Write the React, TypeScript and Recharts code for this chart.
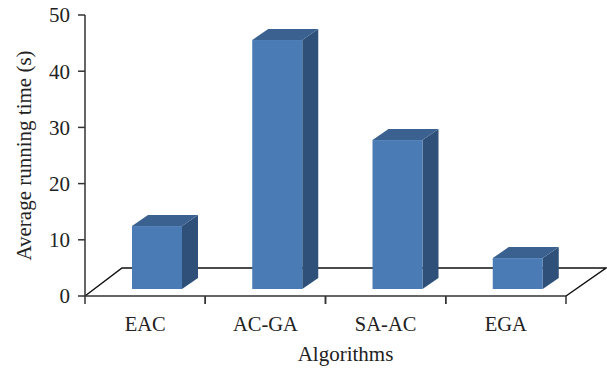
import React from "react";
import { BarChart, Bar, XAxis, YAxis, Customized } from "recharts";

const categories = ["EAC", "AC-GA", "SA-AC", "EGA"];
const runningTimes = [11.2, 44.3, 26.5, 5.5];
const valueTicks = [0, 10, 20, 30, 40, 50];

const chartData = categories.map((name, i) => ({ name, time: runningTimes[i] }));

const WIDTH = 607;
const HEIGHT = 370;
const AXIS_LEFT = 85;
const AXIS_BOTTOM = 296;
const margin = { top: 15, right: 41, left: 0, bottom: 0 };
const PLOT_WIDTH = WIDTH - AXIS_LEFT - margin.right;
const BAND = PLOT_WIDTH / categories.length;

// fake 3D: bars stand a little in front of the axis, on the floor
const DEPTH_X = 16;
const DEPTH_Y = 11;
const BAR_SHIFT_X = 12;
const BAR_SHIFT_Y = 7;

const FONT = "'Liberation Serif', serif";
const TEXT_COLOR = "#222";
const AXIS_COLOR = "#333";

function Bar3D(props: any) {
  const { x, y, width, height } = props;
  const left = x + BAR_SHIFT_X;
  const right = left + width;
  const top = y - BAR_SHIFT_Y;
  const bottom = top + height;
  return (
    <g>
      <polygon
        points={`${right},${top} ${right + DEPTH_X},${top - DEPTH_Y} ${right + DEPTH_X},${bottom - DEPTH_Y} ${right},${bottom}`}
        fill="#2f5078"
      />
      <polygon
        points={`${left},${top} ${left + DEPTH_X},${top - DEPTH_Y} ${right + DEPTH_X},${top - DEPTH_Y} ${right},${top}`}
        fill="#3a6190"
      />
      <rect x={left} y={top} width={width} height={height} fill="#4a7bb5" />
    </g>
  );
}

function Floor() {
  const x0 = AXIS_LEFT;
  const x1 = x0 + PLOT_WIDTH;
  return (
    <polyline
      points={`${x0},${AXIS_BOTTOM} ${x0 + 37},268 ${x1 + 40},268 ${x1},${AXIS_BOTTOM}`}
      fill="none"
      stroke="#111"
      strokeWidth={1.5}
    />
  );
}

// ticks sit on the category boundaries, so each label draws its own pair
function CategoryTick(props: any) {
  const { x, payload } = props;
  return (
    <g>
      <line x1={x - BAND / 2} x2={x - BAND / 2} y1={AXIS_BOTTOM} y2={AXIS_BOTTOM + 8} stroke={AXIS_COLOR} strokeWidth={1.5} />
      <line x1={x + BAND / 2} x2={x + BAND / 2} y1={AXIS_BOTTOM} y2={AXIS_BOTTOM + 8} stroke={AXIS_COLOR} strokeWidth={1.5} />
      <text x={x} y={331} textAnchor="middle" fontFamily={FONT} fontSize={20.5} fill={TEXT_COLOR}>
        {payload.value}
      </text>
    </g>
  );
}

export default function App() {
  return (
    <div style={{ position: "absolute", left: 0, top: 0, width: WIDTH, height: HEIGHT }}>
      <BarChart width={WIDTH} height={HEIGHT} data={chartData} margin={margin} barCategoryGap={0}>
        <Customized component={Floor} />
        <XAxis
          dataKey="name"
          height={HEIGHT - AXIS_BOTTOM}
          interval={0}
          tick={<CategoryTick />}
          tickLine={false}
          axisLine={{ stroke: AXIS_COLOR, strokeWidth: 1.5 }}
          label={{
            value: "Algorithms",
            position: "insideBottom",
            offset: 9,
            dx: 20,
            style: { fontFamily: FONT, fontSize: 21, fill: TEXT_COLOR },
          }}
        />
        <YAxis
          domain={[0, 50]}
          ticks={valueTicks}
          width={AXIS_LEFT}
          tickSize={7}
          tickMargin={8}
          tick={{ fontFamily: FONT, fontSize: 21, fill: TEXT_COLOR }}
          tickLine={{ stroke: AXIS_COLOR, strokeWidth: 1.5 }}
          axisLine={{ stroke: AXIS_COLOR, strokeWidth: 1.5 }}
          label={{
            value: "Average running time (s)",
            angle: -90,
            position: "insideLeft",
            offset: 0,
            dx: 24,
            style: { fontFamily: FONT, fontSize: 21, fill: TEXT_COLOR, textAnchor: "middle" },
          }}
        />
        <Bar dataKey="time" barSize={50} shape={<Bar3D />} isAnimationActive={false} />
      </BarChart>
    </div>
  );
}
